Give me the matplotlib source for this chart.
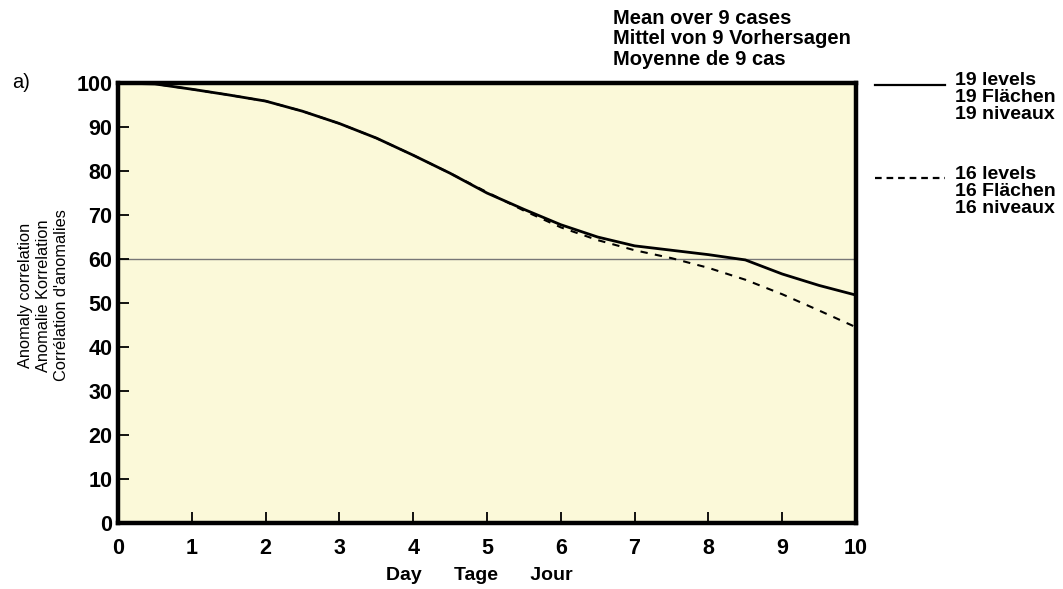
import numpy as np
import matplotlib
matplotlib.use('Agg')
import matplotlib.pyplot as plt
from matplotlib.lines import Line2D

plt.rcParams['font.family'] = ['Liberation Sans', 'DejaVu Sans']

# 19 levels (solid) and 16 levels (dashed), anomaly correlation in %
days_19 = [0, 0.5, 1, 1.5, 2, 2.5, 3, 3.5, 4, 4.5, 5, 5.5, 6, 6.5, 7, 7.5, 8, 8.5, 9, 9.5, 10]
ac_19 = [100, 99.8, 98.6, 97.3, 95.9, 93.6, 90.8, 87.5, 83.6, 79.5, 75.0, 71.3, 67.8, 65.0, 63.0, 62.0, 61.0, 59.8, 56.6, 54.0, 51.8]
days_16 = [0, 0.5, 1, 1.5, 2, 2.5, 3, 3.5, 4, 4.5, 5, 5.5, 6, 6.5, 7, 7.5, 8, 8.5, 9, 9.5, 10]
ac_16 = [100, 99.8, 98.6, 97.3, 95.9, 93.6, 90.8, 87.5, 83.6, 79.5, 75.2, 71.0, 67.2, 64.3, 62.0, 60.2, 58.0, 55.3, 52.0, 48.3, 44.5]
ref_level = 60

yticks = [0, 10, 20, 30, 40, 50, 60, 70, 80, 90, 100]
xticks = [0, 1, 2, 3, 4, 5, 6, 7, 8, 9, 10]

fig = plt.figure(figsize=(10.63, 5.89), dpi=100)
ax = fig.add_axes([0.111, 0.112, 0.6943, 0.747])
ax.set_facecolor('#fbf9d9')

ax.axhline(ref_level, color='#777777', linewidth=1.0, zorder=1)
ax.plot(days_16, ac_16, color='black', linestyle=(0, (3.5, 3.5)), linewidth=1.5, zorder=2)
ax.plot(days_19, ac_19, color='black', linewidth=2.0, zorder=3)

ax.set_xlim(0, 10)
ax.set_ylim(0, 100)
ax.set_xticks(xticks)
ax.set_yticks(yticks)
ax.tick_params(axis='both', direction='in', length=8, width=1.3,
               labelsize=15.5, colors='black')
ax.tick_params(axis='y', pad=4)
ax.tick_params(axis='x', pad=11)
for lab in ax.get_xticklabels() + ax.get_yticklabels():
    lab.set_fontweight('bold')
for sp in ax.spines.values():
    sp.set_linewidth(3.2)

ax.set_xlabel('Day      Tage      Jour', fontsize=14, fontweight='bold')
ax.xaxis.set_label_coords(0.49, -0.1)
ax.set_ylabel("Anomaly correlation\nAnomalie Korrelation\nCorrélation d'anomalies",
              fontsize=11.8, linespacing=1.22)
ax.yaxis.set_label_coords(-0.067, 0.517)

fig.text(0.011, 0.850, 'a)', fontsize=14.5)

fig.text(0.577, 0.985, 'Mean over 9 cases\nMittel von 9 Vorhersagen\nMoyenne de 9 cas',
         fontsize=14.5, fontweight='bold', va='top', ha='left', linespacing=1.1)

# legend on the right
fig.add_artist(Line2D([0.823, 0.889], [0.855, 0.855], color='black', linewidth=1.6))
fig.add_artist(Line2D([0.823, 0.889], [0.697, 0.697], color='black', linewidth=1.6,
                      linestyle=(0, (3, 2.2))))
fig.text(0.898, 0.878, '19 levels\n19 Flächen\n19 niveaux', fontsize=14,
         fontweight='bold', va='top', ha='left', linespacing=1.0)
fig.text(0.898, 0.718, '16 levels\n16 Flächen\n16 niveaux', fontsize=14,
         fontweight='bold', va='top', ha='left', linespacing=1.0)

fig.savefig('out.png', dpi=100, facecolor='white')
